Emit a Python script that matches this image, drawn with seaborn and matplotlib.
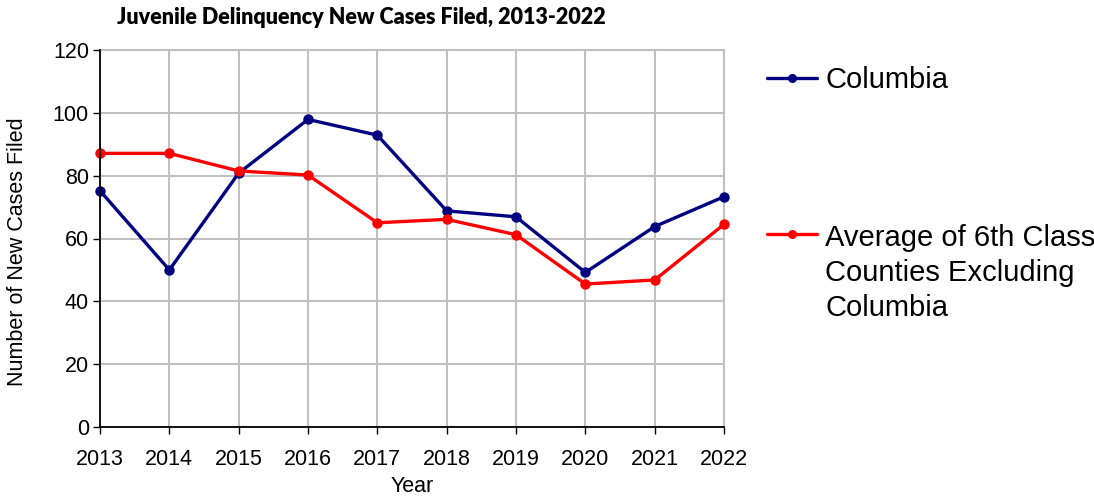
import numpy as np
import pandas as pd
import matplotlib
matplotlib.use("Agg")
import matplotlib.pyplot as plt
from matplotlib.legend_handler import HandlerLine2D
import seaborn as sns

years = [2013, 2014, 2015, 2016, 2017, 2018, 2019, 2020, 2021, 2022]
columbia = [75.2, 50.0, 80.8, 97.9, 92.9, 68.8, 66.9, 49.2, 63.8, 73.3]
avg_6th = [87.1, 87.1, 81.5, 80.2, 65.0, 66.1, 61.2, 45.5, 46.8, 64.5]

lbl_col = "Columbia"
lbl_avg = "Average of 6th Class\nCounties Excluding\nColumbia"

df = pd.DataFrame({"Year": years * 2,
                   "Cases": columbia + avg_6th,
                   "Series": [lbl_col] * len(years) + [lbl_avg] * len(years)})

sns.set_theme(style="whitegrid")
plt.rcParams['font.family'] = ['Liberation Sans', 'DejaVu Sans']

fig = plt.figure(figsize=(10.94, 4.96), dpi=100)
ax = fig.add_axes([100 / 1094, 1 - 427 / 496, 624 / 1094, 377 / 496])
ax.set_facecolor("white")

sns.lineplot(data=df, x="Year", y="Cases", hue="Series",
             palette={lbl_col: "#000080", lbl_avg: "#ff0000"},
             marker="o", markersize=7.5, markeredgewidth=0, linewidth=2.4,
             ax=ax, legend=False, clip_on=False, zorder=3)

ax.set_xlim(2013, 2022)
ax.set_ylim(0, 120)
ax.set_xticks(years)
ax.set_yticks(range(0, 121, 20))
ax.grid(True, color="#c0c0c0", linewidth=1.5)
for s in ["top", "right"]:
    ax.spines[s].set_color("#c0c0c0")
    ax.spines[s].set_linewidth(1.5)
for s in ["left", "bottom"]:
    ax.spines[s].set_color("black")
    ax.spines[s].set_linewidth(1.3)
    ax.spines[s].set_zorder(4)
ax.tick_params(axis="both", which="both", length=5, width=1, color="black",
               direction="out", labelsize=15.5, labelcolor="black", pad=3)
ax.tick_params(axis="x", pad=11)
ax.tick_params(left=True, bottom=True)
ax.set_xlabel("Year", fontsize=15.5, color="black", labelpad=4)
ax.set_ylabel("Number of New Cases Filed", fontsize=15.5, color="black")
ax.yaxis.set_label_coords(-0.115, 0.464)

fig.text(361 / 1094, 1 - 18 / 496, "Juvenile Delinquency New Cases Filed, 2013-2022",
         ha="center", va="center", fontsize=15.5, fontweight="heavy",
         color="black", family=["Lato", "DejaVu Sans"])


class TopLine(HandlerLine2D):
    # put the handle next to the first line of a multi-line label
    def __init__(self, shift, **kw):
        super().__init__(**kw)
        self.shift = shift

    def create_artists(self, legend, orig_handle, xdescent, ydescent,
                       width, height, fontsize, trans):
        arts = super().create_artists(legend, orig_handle, xdescent, ydescent,
                                      width, height, fontsize, trans)
        for a in arts:
            a.set_ydata(np.asarray(a.get_ydata(), dtype=float) + self.shift)
        return arts


h_col = plt.Line2D([], [], color="#000080", marker="o", markersize=6.5,
                   markeredgewidth=0, linewidth=2.4)
h_avg = plt.Line2D([], [], color="#ff0000", marker="o", markersize=6.5,
                   markeredgewidth=0, linewidth=2.4)
leg = fig.legend([h_col, h_avg], [lbl_col, lbl_avg],
                 loc="upper left", bbox_to_anchor=(767 / 1094, 1 - 66 / 496),
                 bbox_transform=fig.transFigure, frameon=False, fontsize=21,
                 labelcolor="black",
                 handlelength=1.71, handletextpad=0.28, borderpad=0, borderaxespad=0,
                 labelspacing=4.46, handler_map={h_avg: TopLine(28.5)})
leg.get_texts()[1].set_linespacing(1.32)

fig.savefig("out.png", dpi=100)
